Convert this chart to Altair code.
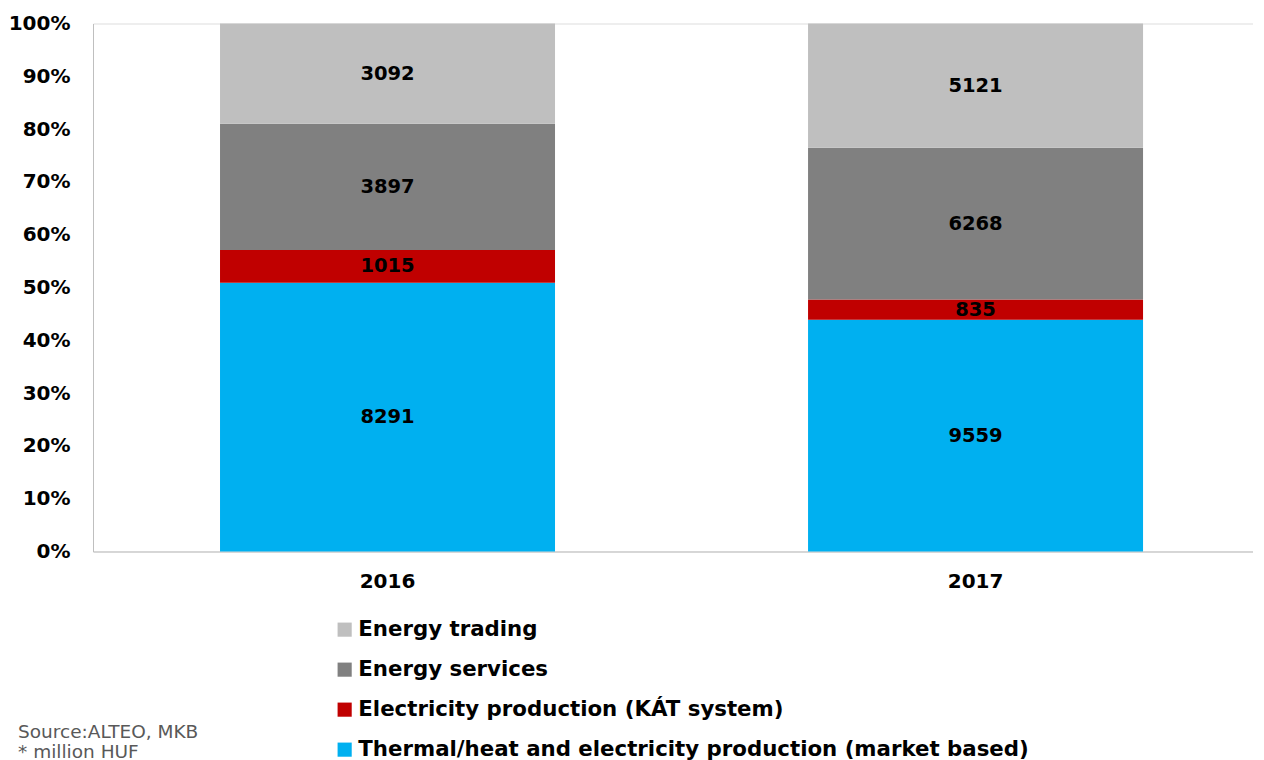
import altair as alt
import pandas as pd

years = ["2016", "2017"]
segments = [
    "Thermal/heat and electricity production (market based)",
    "Electricity production (KÁT system)",
    "Energy services",
    "Energy trading",
]
values_2016 = [8291, 1015, 3897, 3092]
values_2017 = [9559, 835, 6268, 5121]
segment_colors = ["#00B0F0", "#C00000", "#808080", "#BFBFBF"]
source_lines = ["Source:ALTEO, MKB", "* million HUF"]
y_ticks = [0, 0.1, 0.2, 0.3, 0.4, 0.5, 0.6, 0.7, 0.8, 0.9, 1.0]

rows = []
for yr, vals in zip(years, [values_2016, values_2017]):
    for i, (s, v) in enumerate(zip(segments, vals)):
        rows.append({"year": yr, "segment": s, "value": v, "order": i})
df = pd.DataFrame(rows)

FONT = "DejaVu Sans"
legend_domain = list(reversed(segments))
legend_range = list(reversed(segment_colors))

x_enc = alt.X(
    "year:N",
    title=None,
    scale=alt.Scale(paddingInner=0.4303, paddingOuter=0.2015, align=0.536),
    axis=alt.Axis(
        labelAngle=0, labelFontSize=20, labelFontWeight="bold", labelFont=FONT,
        labelColor="black", labelPadding=20, ticks=False, domainColor="#BFBFBF",
        domainWidth=1,
    ),
)

base = alt.Chart(df)

bars = base.mark_bar().encode(
    x=x_enc,
    y=alt.Y(
        "value:Q", stack="normalize", title=None,
        scale=alt.Scale(domain=[0, 1], nice=False),
        axis=alt.Axis(
            format="%", values=y_ticks, labelFontSize=20, labelFontWeight="bold",
            labelFont=FONT, labelColor="black", labelPadding=23, ticks=False,
            grid=False, domainColor="#BFBFBF", domainWidth=1,
        ),
    ),
    color=alt.Color(
        "segment:N",
        scale=alt.Scale(domain=legend_domain, range=legend_range),
        legend=alt.Legend(
            orient="none", legendX=241, legendY=595.5, title=None,
            symbolType="square", symbolSize=200, symbolStrokeWidth=0,
            labelFontSize=21.3, labelFontWeight="bold", labelFont=FONT,
            labelColor="black", rowPadding=18, labelLimit=1000, labelOffset=3,
        ),
    ),
    order=alt.Order("order:Q"),
)

labels = base.transform_joinaggregate(
    total="sum(value)", groupby=["year"]
).transform_window(
    cum="sum(value)", sort=[alt.SortField("order")], groupby=["year"],
    frame=[None, 0],
).transform_calculate(
    mid="(datum.cum - datum.value / 2) / datum.total"
).mark_text(
    font=FONT, fontSize=19.5, fontWeight="bold", color="black", baseline="middle"
).encode(
    x=x_enc,
    y=alt.Y("mid:Q", title=None),
    text=alt.Text("value:Q", format="d"),
)

source = alt.Chart(pd.DataFrame({"t": [0]})).mark_text(
    text=source_lines, align="left", baseline="top", font=FONT, fontSize=18.5,
    color="#595959", lineHeight=20,
).encode(x=alt.value(-75), y=alt.value(699))

chart = alt.layer(bars, labels, source).properties(
    width=1160, height=528,
    padding={"left": 0, "top": 5.5, "right": 0, "bottom": 0},
).configure_view(stroke=None).configure(background="white")

chart.save("out.html", embed_options={"renderer": "svg", "actions": False})
